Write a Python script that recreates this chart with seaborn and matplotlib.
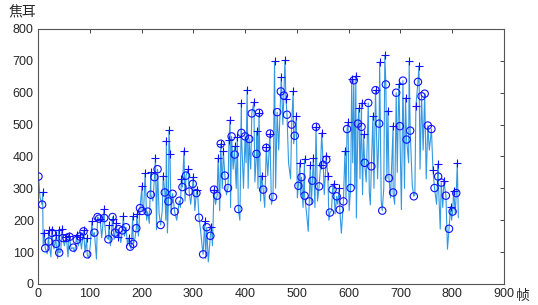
import pandas as pd
import matplotlib.pyplot as plt
import seaborn as sns

sns.set_style('white')
plt.rcParams['font.family'] = ['Liberation Sans', 'DejaVu Sans']

# peak frames marked with '+' (frame, joules)
plus_frame = [9, 12, 21, 27, 35, 40, 46, 54, 60, 75, 81, 88, 94, 104, 120, 128, 137, 144, 151, 155,
              165, 175, 183, 191, 201, 207, 218, 227, 242, 248, 253, 255, 277, 282, 290, 300, 308,
              322, 335, 340, 348, 353, 358, 369, 371, 380, 385, 393, 404, 417, 423, 427, 432, 441,
              448, 457, 470, 477, 479, 493, 499, 506, 515, 526, 532, 537, 546, 548, 557, 560, 571,
              582, 593, 599, 606, 614, 620, 625, 629, 647, 652, 660, 670, 676, 686, 697, 710, 717,
              730, 736, 763, 773, 784, 797, 803, 810]
plus_value = [287, 161, 168, 170, 154, 168, 172, 147, 151, 154, 147, 168, 144, 196, 203, 235, 184, 205, 191, 147,
              214, 144, 212, 219, 308, 348, 350, 395, 340, 448, 482, 409, 329, 418, 360, 336, 296,
              196, 180, 296, 395, 440, 417, 453, 514, 432, 462, 568, 610, 570, 479, 537, 340, 430,
              472, 698, 650, 702, 581, 605, 526, 381, 392, 374, 395, 493, 374, 474, 401, 340, 314,
              301, 417, 507, 642, 653, 552, 568, 469, 526, 608, 696, 717, 544, 497, 628, 584, 698,
              558, 684, 358, 377, 324, 243, 293, 380]

# frames marked with 'o'
circ_frame = [1, 8, 14, 21, 27, 35, 41, 48, 55, 61, 68, 75, 81, 88, 95, 109, 115, 118, 128, 136,
              144, 149, 156, 163, 170, 178, 184, 190, 197, 201, 212, 218, 225, 231, 237, 245, 252,
              260, 264, 273, 279, 286, 292, 299, 306, 311, 319, 326, 333, 340, 346, 353, 361, 367,
              374, 380, 387, 393, 400, 408, 413, 422, 427, 435, 441, 448, 454, 462, 469, 475, 481,
              490, 496, 503, 509, 515, 524, 530, 537, 543, 551, 557, 564, 569, 577, 583, 590, 597,
              604, 610, 618, 625, 631, 638, 644, 652, 659, 665, 672, 678, 686, 692, 699, 705, 712,
              719, 726, 734, 741, 747, 753, 760, 766, 773, 779, 788, 794, 801, 808]
circ_value = [337, 249, 112, 133, 160, 126, 98, 144, 144, 148, 114, 138, 149, 165, 93, 161, 210, 205, 207, 140,
              210, 161, 172, 168, 178, 117, 126, 175, 238, 229, 227, 280, 335, 360, 185, 287, 259,
              283, 227, 261, 304, 340, 290, 314, 285, 208, 93, 178, 151, 296, 277, 440, 340, 301,
              463, 406, 235, 474, 463, 455, 535, 408, 537, 296, 427, 472, 273, 539, 604, 591, 531,
              500, 465, 308, 335, 277, 259, 324, 493, 306, 374, 390, 224, 296, 275, 233, 259, 486,
              301, 639, 503, 493, 380, 568, 369, 608, 503, 230, 626, 332, 287, 600, 495, 638, 453,
              481, 275, 634, 589, 597, 497, 486, 301, 337, 318, 277, 173, 227, 285]

# unmarked dips of the curve between the marks
dip_frame = [4, 10, 18, 25, 31, 38, 44, 51, 58, 64, 71, 78, 84, 91, 98, 101, 106, 113, 123, 131,
             140, 147, 153, 160, 167, 173, 180, 187, 194, 204, 210, 215, 222, 229, 234, 240, 247,
             250, 257, 268, 275, 284, 295, 303, 314, 317, 324, 329, 337, 343, 351, 356, 364, 372,
             377, 383, 390, 397, 402, 406, 411, 419, 425, 430, 438, 444, 451, 459, 465, 473, 484,
             488, 494, 501, 507, 512, 519, 522, 528, 535, 540, 553, 562, 567, 574, 579, 586, 595,
             601, 608, 612, 615, 622, 627, 634, 640, 642, 649, 656, 663, 668, 674, 681, 689, 694,
             702, 708, 716, 723, 728, 738, 744, 750, 756, 770, 777, 782, 791, 799, 806, 812]
dip_value = [270, 120, 95, 85, 110, 80, 100, 120, 85, 110, 100, 120, 110, 100, 80, 120, 150, 78, 145, 150,
             120, 140, 150, 130, 150, 120, 110, 140, 150, 230, 200, 190, 260, 170, 220, 230, 200,
             160, 220, 200, 240, 260, 250, 230, 170, 120, 80, 69, 120, 250, 230, 300, 280, 240,
             360, 300, 200, 300, 380, 300, 360, 320, 300, 260, 240, 340, 250, 300, 420, 500, 380,
             330, 440, 270, 280, 240, 220, 165, 250, 240, 260, 280, 200, 230, 220, 250, 159, 270,
             230, 380, 300, 207, 330, 280, 320, 290, 248, 300, 330, 260, 300, 330, 270, 250, 350,
             233, 300, 380, 310, 280, 360, 420, 330, 420, 250, 172, 240, 109, 200, 220, 208]

line_df = pd.DataFrame({
    'frame': plus_frame + circ_frame + dip_frame,
    'joule': plus_value + circ_value + dip_value,
}).sort_values('frame', kind='stable')
plus_df = pd.DataFrame({'frame': plus_frame, 'joule': plus_value})
circ_df = pd.DataFrame({'frame': circ_frame, 'joule': circ_value})

fig = plt.figure(figsize=(5.38, 3.05), dpi=100)
ax = fig.add_axes([0.0706, 0.069, 0.866, 0.836])

sns.lineplot(data=line_df, x='frame', y='joule', estimator=None, sort=False,
             color='#3398e0', linewidth=0.8, ax=ax, zorder=2)
sns.scatterplot(data=plus_df, x='frame', y='joule', marker='+', s=38, color='#1010ff',
                linewidth=0.8, ax=ax, zorder=3)
sns.scatterplot(data=circ_df, x='frame', y='joule', marker='o', s=28, facecolor='none',
                edgecolor='#1010ff', linewidth=0.8, ax=ax, zorder=3)

ax.set_xlim(0, 900)
ax.set_ylim(0, 800)
ax.set_xticks(range(0, 901, 100))
ax.set_yticks(range(0, 801, 100))
ax.set_xlabel('')
ax.set_ylabel('')
ax.tick_params(direction='in', top=True, right=True, length=3, width=0.6,
               labelsize=9, colors='#262626', pad=3)
for s in ax.spines.values():
    s.set_color('#555555')
    s.set_linewidth(0.8)

fig.text(0.041, 0.96, '焦耳', fontsize=10, family=['Noto Sans CJK SC', 'DejaVu Sans'],
         ha='center', va='center', color='#262626')
fig.text(0.972, 0.028, '帧', fontsize=10, family=['Noto Sans CJK SC', 'DejaVu Sans'],
         ha='center', va='center', color='#262626')

fig.savefig('out.png', dpi=100)
